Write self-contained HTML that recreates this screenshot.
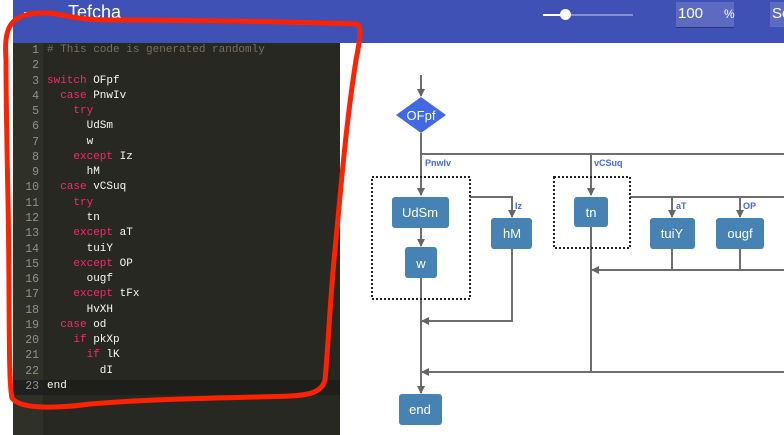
<!DOCTYPE html>
<html><head><meta charset="utf-8"><style>
body{margin:0;width:784px;height:435px;overflow:hidden;background:#fff;position:relative;font-family:"Liberation Sans",sans-serif}
#hdr{position:absolute;left:13px;top:0;width:771px;height:43px;background:#3f51b5}
#ed{position:absolute;left:13px;top:43px;width:327px;height:392px;background:#272822}
#gut{position:absolute;left:13px;top:43px;width:30px;height:392px;background:#2f3129}
.ln{position:absolute;left:13px;width:26px;text-align:right;font:11.5px/15px "Liberation Mono",monospace;color:#8f908a}
.cd{position:absolute;left:47px;font:11px/15px "Liberation Mono",monospace;color:#f8f8f2;white-space:pre}
.k{color:#f92672}.c{color:#75715e}
</style></head><body>
<div id="hdr"></div>
<div style="position:absolute;left:24px;top:12px;width:16px;height:2px;background:#fff"></div>
<div style="position:absolute;left:68px;top:2px;color:#fff;font-size:18px">Tefcha</div>
<div style="position:absolute;left:543px;top:14px;width:90px;height:2px;background:#8590d0"></div>
<div style="position:absolute;left:543px;top:14px;width:22px;height:2px;background:#fff"></div>
<div style="position:absolute;left:560px;top:9px;width:11px;height:11px;border-radius:50%;background:#fff"></div>
<div style="position:absolute;left:676px;top:2px;width:58px;height:25px;background:#5c6bc0;border-bottom:1px solid #2a3580;color:#fff;font-size:15px"><span style="position:absolute;left:2px;top:3px">100</span><span style="position:absolute;left:48px;top:5px;font-size:12px">%</span></div>
<div style="position:absolute;left:770px;top:2px;width:14px;height:25px;background:#5c6bc0;color:#fff;font-size:15px;padding:3px 0 0 2px;box-sizing:border-box">Sc</div>
<div id="ed"></div><div id="gut"></div>
<div style="position:absolute;left:13px;top:380px;width:327px;height:15px;background:#202020"></div>
<div style="position:absolute;left:43px;top:380px;width:297px;height:15px;background:#1e1f1a"></div>
<div id="code"></div>
<script>
var L=[
'<span class="c"># This code is generated randomly</span>','',
'<span class="k">switch</span> OFpf',
'  <span class="k">case</span> PnwIv',
'    <span class="k">try</span>','      UdSm','      w',
'    <span class="k">except</span> Iz','      hM',
'  <span class="k">case</span> vCSuq',
'    <span class="k">try</span>','      tn',
'    <span class="k">except</span> aT','      tuiY',
'    <span class="k">except</span> OP','      ougf',
'    <span class="k">except</span> tFx','      HvXH',
'  <span class="k">case</span> od',
'    <span class="k">if</span> pkXp','      <span class="k">if</span> lK','        dI','end'];
var h='';for(var i=0;i<L.length;i++){var y=43+i*15.27;
h+='<div class="ln" style="top:'+y+'px">'+(i+1)+'</div><div class="cd" style="top:'+y+'px">'+L[i]+'</div>';}
document.getElementById('code').innerHTML=h;
</script>
<svg width="784" height="435" style="position:absolute;left:0;top:0" font-family="Liberation Sans, sans-serif">
<defs><marker id="a" markerWidth="8" markerHeight="8" refX="7" refY="4" orient="auto" markerUnits="userSpaceOnUse"><path d="M0,0L8,4L0,8z" fill="#666"/></marker></defs>
<g stroke="#6e6e6e" stroke-width="2" fill="none">
<path d="M421,75V96" marker-end="url(#a)"/>
<path d="M421,133V154H784"/>
<path d="M421,154V195" marker-end="url(#a)"/>
<path d="M421,228V246" marker-end="url(#a)"/>
<path d="M421,278V393" marker-end="url(#a)"/>
<path d="M470,197H512V217" marker-end="url(#a)"/>
<path d="M512,249V321H422" marker-end="url(#a)"/>
<path d="M591,154V195" marker-end="url(#a)"/>
<path d="M591,227V372"/>
<path d="M630,197H784"/>
<path d="M672,197V217" marker-end="url(#a)"/>
<path d="M740,197V217" marker-end="url(#a)"/>
<path d="M672,249V270M740,249V270"/>
<path d="M784,270H592" marker-end="url(#a)"/>
<path d="M784,372H422" marker-end="url(#a)"/>
</g>
<g stroke="#222" stroke-width="2" stroke-dasharray="2,2" fill="none">
<rect x="372" y="177" width="98" height="122"/>
<rect x="554" y="177" width="76" height="71"/>
</g>
<path d="M421,97L446,115L421,133L396,115z" fill="#4169e1"/>
<text x="421" y="120" fill="#fff" font-size="13" text-anchor="middle">OFpf</text>
<g fill="#4682b4">
<rect x="392" y="197" width="57" height="31" rx="3"/>
<rect x="405" y="247" width="32" height="31" rx="3"/>
<rect x="491" y="218" width="41" height="31" rx="3"/>
<rect x="574" y="197" width="34" height="30" rx="3"/>
<rect x="650" y="218" width="45" height="31" rx="3"/>
<rect x="716" y="218" width="48" height="31" rx="3"/>
<rect x="399" y="394" width="43" height="31" rx="3"/>
</g>
<g fill="#fff" font-size="13" text-anchor="middle">
<text x="420" y="217">UdSm</text><text x="421" y="268">w</text><text x="512" y="238">hM</text>
<text x="591" y="217">tn</text><text x="672" y="238">tuiY</text><text x="740" y="238">ougf</text>
<text x="420" y="414">end</text>
</g>
<g fill="#4169e1" font-size="9" font-weight="bold">
<text x="425" y="166">Pnwlv</text><text x="515" y="209">Iz</text><text x="594" y="166">vCSuq</text>
<text x="676" y="209">aT</text><text x="743" y="209">OP</text>
</g>
<path d="M6,60C4,30 8,14 40,13C60,12 70,20 110,20C200,20 300,22 357,24C362,26 360,40 356,60C345,130 340,200 335,250C330,300 328,350 325,380C322,392 310,395 290,396C240,398 160,398 90,404C60,408 20,410 12,398C8,380 10,300 8,200C7,150 6,100 6,60Z" fill="none" stroke="#ff2200" stroke-width="5" stroke-linejoin="round"/>
</svg>
</body></html>
